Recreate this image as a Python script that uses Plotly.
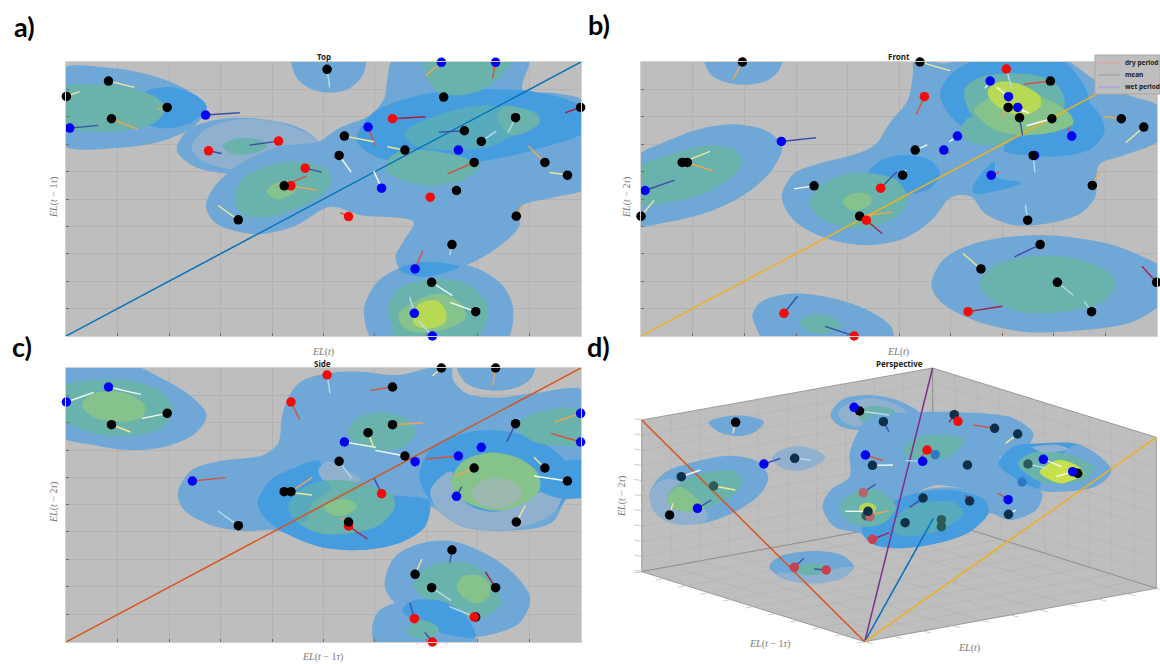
import plotly.graph_objects as go
import numpy as np

W, H = 1160, 664
POINT = {"k": "#000000", "b": "#0000F5", "r": "#F50A0A", "n": "#10304A", "t": "#2B5A58",
         "m": "#2E78C4", "f": "#C8404F", "g": "#B9616A"}
ARROW = {"W": "#F4FAF4", "Y": "#F3E79A", "O": "#EDA650", "R": "#D9503A", "D": "#3A4FA8",
         "L": "#B5DCEC", "M": "#A81F45"}
LEVEL = {"blue": "#6FA8D6", "bright": "#459DE0", "pale": "#8FB0CE", "green": "#6AB2AC", "teal": "#58ABBC",
         "light": "#85C28C", "yellow": "#B7D955", "lemon": "#C8DF4E", "sand": "#9CB9AE", "gray": "#BEBEBE"}

# ---------- panel a (Top): values ----------
a_xrange = [176, 1545]
a_yrange = [1007, 186]
a_xticks = [314, 450, 587, 724, 860, 997, 1134, 1271, 1408]
a_yticks = [268, 350, 432, 514, 597, 680, 760, 843, 925]
a_points = [(289,243),(177,289),(445,322),(297,356),(870,208),(1180,291),(1371,353),(1544,322),(1235,392),(1280,424),
            (916,408),(1077,450),(902,466),(1261,487),(1449,487),(1509,525),(1214,571),(634,659),(1373,648),
            (1202,733),(1148,846),(1265,934),(1174,187),(1318,187),(186,384),(547,345),(979,381),(1219,450),
            (1015,564),(1104,806),(1102,939),(1150,1007),(555,452),(741,423),(1044,356),(812,504),(774,557),
            (1144,591),(927,649),(756,557)]
a_kinds = "kkkkkkkkkkkkkkkkkkkkkk" + "bbbbbbbbbb" + "rrrrrrr" + "k"
a_arrows = [(289,243,358,262),(177,289,212,275),(445,322,420,327),(297,356,366,387),(870,208,877,262),
            (1371,353,1351,398),(1544,322,1503,338),(1235,392,1167,396),(1280,424,1320,393),(916,408,995,425),
            (1077,450,1030,440),(902,466,934,516),(1261,487,1190,521),(1449,487,1405,438),(1509,525,1462,517),
            (634,659,580,616),(1373,648,1390,615),(1202,733,1196,765),(1148,846,1203,886),(1265,934,1197,906),
            (1174,187,1133,226),(1318,187,1310,235),(186,384,262,376),(547,345,638,338),(979,381,997,436),
            (1015,564,994,513),(1104,806,1124,752),(1102,939,1090,890),(1150,1007,1113,962),(555,452,590,460),
            (741,423,664,435),(1044,356,1132,350),(812,504,856,516),(774,557,843,570),(756,557,815,527),(927,649,905,637)]
a_arrow_kinds = "YYOOLLMDLYYWROYYOLWWORDDRWRLLDDMDORR"
a_region_levels = ["blue","bright","green","blue","blue","pale","blue","bright","green","teal","green","green","green",
                   "light","green","blue","bright","green","light","yellow"]
a_regions = [
 [(160,210),(290,203),(400,225),(490,265),(550,320),(520,375),(440,420),(320,443),(160,430)],
 [(343,322),(375,280),(450,261),(520,285),(550,320),(520,360),(450,385),(375,365)],
 [(160,265),(260,253),(350,265),(420,295),(440,325),(415,365),(340,390),(270,395),(160,370)],
 [(778,170),(790,235),(830,268),(875,278),(925,268),(965,225),(970,170)],
 [(470,450),(500,390),(580,358),(680,355),(790,380),(845,425),(800,480),(700,515),(600,520),(510,495)],
 [(510,440),(550,385),(640,358),(750,370),(845,425),(790,470),(700,510),(600,505),(535,480)],
 [(1050,170),(1030,240),(1022,295),(985,345),(900,385),(845,425),(740,440),(640,490),(570,560),(548,620),(575,670),
  (680,702),(780,680),(880,620),(960,645),(1100,665),(1075,720),(1052,770),(1070,815),(1130,830),(1230,800),(1320,745),
  (1380,680),(1385,620),(1480,590),(1560,560),(1560,310),(1480,280),(1390,268),(1405,170)],
 [(948,420),(990,340),(1100,290),(1250,268),(1400,272),(1500,295),(1560,330),(1560,390),(1450,440),(1300,480),(1130,495),(1000,470)],
 [(1133,170),(1135,235),(1170,280),(1230,285),(1290,265),(1330,230),(1365,170)],
 [(1075,400),(1130,360),(1250,320),(1340,318),(1430,340),(1435,370),(1370,405),(1300,440),(1180,450),(1100,435)],
 [(1325,345),(1345,318),(1420,340),(1435,365),(1400,395),(1360,405),(1330,375)],
 [(1025,490),(1060,455),(1130,450),(1240,475),(1275,500),(1240,535),(1150,557),(1080,545),(1035,520)],
 [(625,590),(650,530),(720,495),(800,485),(870,510),(880,550),(850,590),(790,625),(700,652),(640,640)],
 [(710,575),(730,550),(785,550),(785,575),(735,597)],
 [(593,437),(630,415),(690,420),(710,440),(670,460),(620,462)],
 [(968,930),(1000,850),(1060,805),(1165,783),(1270,805),(1340,860),(1365,930),(1340,1030),(1000,1030)],
 [(1060,805),(1130,785),(1220,800),(1130,830),(1070,815)],
 [(1033,920),(1060,865),(1150,838),(1240,850),(1295,910),(1290,975),(1250,1030),(1060,1030),(1040,970)],
 [(1060,940),(1110,900),(1170,880),(1220,905),(1240,950),(1190,985),(1100,995),(1065,970)],
 [(1110,915),(1160,900),(1185,930),(1185,965),(1140,985),(1100,970)],
]
a_diagonal_x = [176, 1545]
a_diagonal_y = [1007, 186]

# ---------- panel b (Front) ----------
b_xrange = [154, 1558]
b_yrange = [1007, 186]
b_xticks = [295, 435, 576, 716, 857, 997, 1137, 1277, 1417]
b_yticks = [268, 350, 432, 514, 597, 680, 760, 843, 925]
b_points = [(1225,466),(430,186),(913,186),(1268,243),(1153,322),(1184,353),(1272,356),(1461,356),(1522,381),(900,450),
            (266,487),(280,487),(866,525),(1221,466),(625,557),(1382,556),(154,648),(1206,660),(1240,733),
            (1079,806),(1287,846),(1557,846),(1380,934),(1104,243),(1154,290),(1179,322),(1015,408),(1326,408),
            (536,424),(978,450),(1107,525),(165,571),(1148,207),(925,290),(806,564),(543,939),(1044,934),
            (734,1007),(749,648),(767,660)]
b_kinds = "b" + "kkkkkkkkkkkkkkkkkkkkkk" + "bbbbbbbbb" + "rrrrrr" + "kr"
b_arrows = [(430,186,404,238),(913,186,995,212),(1268,243,1195,253),(1153,322,1135,350),(1153,322,1207,337),(1184,353,1192,405),
            (1272,356,1203,377),(1461,356,1415,350),(1522,381,1473,428),(900,450,933,434),(266,487,342,454),
            (280,487,350,512),(866,525,875,510),(1221,466,1226,517),(625,557,570,566),(1382,556,1400,515),
            (154,648,190,600),(749,648,838,636),(1206,660,1200,615),(1240,733,1170,770),(1079,806,1030,760),
            (1287,846,1330,885),(1557,846,1517,798),(1380,934,1360,903),(1104,243,1090,265),(1154,290,1122,262),
            (1179,322,1210,340),(1015,408,993,425),(1326,408,1315,382),(536,424,630,413),(978,450,995,460),
            (1107,525,1128,516),(165,571,245,540),(1148,207,1163,265),(925,290,903,342),(806,564,850,515),
            (767,660,810,700),(543,939,580,888),(1044,934,1137,918),(734,1007,655,978)]
b_arrow_kinds = "OYROWDWOYWYOWLWOYOLDYLMLWWWWRDRRDLRDMDMD"
b_region_levels = ["blue","blue","green","blue","bright","bright","bright","bright","green","green","light","yellow",
                   "green","light","blue","green","blue","green"]
b_regions = [
 [(327,170),(345,225),(390,248),(440,254),(500,240),(530,210),(538,170)],
 [(140,475),(220,425),(320,385),(420,373),(500,395),(538,440),(510,510),(440,580),(350,630),(230,665),(140,672)],
 [(140,510),(230,465),(330,437),(410,450),(427,490),(390,540),(300,590),(200,612),(140,610)],
 [(900,170),(975,190),(1060,170),(1290,170),(1390,240),(1480,285),(1570,325),(1570,415),(1470,465),(1400,495),(1390,590),
  (1350,640),(1260,670),(1170,675),(1090,640),(1052,590),(1000,590),(945,660),(870,715),(770,735),(660,715),(570,660),
  (537,590),(570,520),(640,490),(730,465),(790,435),(830,370),(880,300),(893,230)],
 [(968,280),(1000,220),(1080,175),(1290,175),(1350,240),(1373,300),(1340,370),(1260,420),(1160,430),(1060,400),(990,340)],
 [(1140,450),(1310,270),(1400,340),(1415,395),(1380,445),(1300,468),(1200,465)],
 [(772,522),(800,485),(870,465),(940,480),(968,522),(940,565),(870,582),(800,560)],
 [(1057,560),(1115,485),(1120,530),(1190,548),(1060,580)],
 [(1034,270),(1070,235),(1170,220),(1270,240),(1305,290),(1300,350),(1240,395),(1170,410),(1090,385),(1045,330)],
 [(1022,395),(1050,350),(1100,390),(1170,410),(1150,430),(1080,435),(1040,420)],
 [(1060,330),(1100,295),(1190,270),(1320,340),(1330,370),(1280,395),(1200,405),(1120,390)],
 [(1098,270),(1130,245),(1190,255),(1240,290),(1240,320),(1200,345),(1150,335),(1105,300)],
 [(613,610),(640,560),(700,525),(780,520),(850,540),(878,590),(860,640),(780,680),(700,680),(640,650)],
 [(702,605),(725,582),(775,583),(780,610),(745,630),(725,630)],
 [(944,855),(975,780),(1060,730),(1180,707),(1300,708),(1440,735),(1540,780),(1570,800),(1570,905),(1490,965),(1350,990),(1200,995),(1060,960),(970,905)],
 [(1074,850),(1110,800),(1200,770),(1310,770),(1410,805),(1447,850),(1410,905),(1300,935),(1190,935),(1100,895)],
 [(457,945),(480,905),(570,880),(680,895),(780,935),(835,980),(838,1030),(497,1030),(465,975)],
 [(583,965),(615,943),(670,950),(700,975),(660,997),(620,997)],
]
b_diagonal_x = [154, 1558]
b_diagonal_y = [1007, 186]

# ---------- panel c (Side) ----------
c_xrange = [176, 1545]
c_yrange = [936, 114]
c_xticks = [314, 450, 587, 724, 860, 997, 1134, 1271, 1408]
c_yticks = [196, 278, 360, 442, 523, 605, 688, 770, 852]
c_points = [(1174,114),(1318,114),(1044,171),(445,250),(297,284),(1044,284),(1371,281),(979,308),(1077,378),(902,394),
            (1261,414),(1449,414),(1509,453),(756,485),(774,485),(634,587),(1373,576),(1202,660),(1104,733),
            (1148,773),(1318,773),(1265,861),(289,171),(177,216),(916,336),(1280,352),(1544,250),(1544,336),
            (1219,378),(1104,395),(512,453),(1214,499),(870,135),(774,216),(1015,491),(927,588),(1102,866),
            (1261,861),(1150,936),(927,576)]
c_kinds = "kkkkkkkkkkkkkkkkkkkkkk" + "bbbbbbbbbb" + "rrrrrrr" + "k"
c_arrows = [(1174,114,1150,138),(1318,114,1310,165),(1044,171,985,181),(445,250,378,265),(297,284,347,306),
            (1044,284,1125,279),(1371,281,1348,335),(979,308,995,355),(1077,378,998,361),(902,394,935,445),
            (1261,414,1213,438),(1449,414,1420,382),(1509,453,1420,438),(756,485,830,495),(774,485,830,443),
            (927,576,905,563),(634,587,580,543),(1373,576,1397,527),(1202,660,1196,698),(1104,733,1122,688),
            (1148,773,1200,812),(1318,773,1291,726),(1265,861,1195,830),(289,171,375,193),(177,216,250,187),
            (916,336,1000,352),(1544,250,1475,276),(1544,336,1465,310),(1219,378,1133,387),(512,453,600,443),
            (1214,499,1228,470),(1015,491,995,445),(870,135,878,190),(774,216,797,268),(927,588,977,627),
            (1102,866,1090,818),(1150,936,1130,907)]
c_arrow_kinds = "YORWYODYWLOYWYOOLYDYLMLWWWORRRDDLRMDD"
c_region_levels = ["blue","green","light","blue","blue","bright","pale","bright","pale","bright","green","light","sand",
                   "green","green","teal","light","blue","green","light","blue","bright","green"]
c_regions = [
 [(160,100),(340,100),(430,145),(510,200),(550,255),(520,310),(440,350),(340,360),(250,345),(160,315)],
 [(160,175),(230,152),(330,150),(420,180),(460,235),(440,285),(370,315),(270,315),(200,290),(160,265)],
 [(218,225),(250,190),(330,188),(385,225),(380,260),(320,275),(250,262)],
 [(1215,100),(1240,160),(1310,182),(1380,170),(1415,140),(1422,100)],
 [(800,155),(870,130),(960,125),(1060,135),(1170,105),(1200,105),(1205,150),(1240,190),(1320,203),(1420,190),(1560,185),
  (1560,500),(1510,505),(1465,580),(1320,600),(1200,565),(1140,530),(1130,590),(1060,640),(960,660),(850,650),(760,610),
  (730,600),(650,603),(560,585),(490,540),(473,490),(510,420),(590,392),(700,375),(740,340),(750,260),(770,195)],
 [(685,520),(720,450),(790,410),(848,392),(880,470),(1140,510),(1145,530),(1130,590),(1060,640),(960,660),(850,650),(760,610),(710,570)],
 [(847,420),(870,395),(950,440),(960,450),(880,470),(855,445)],
 [(1115,440),(1150,350),(1240,308),(1330,302),(1430,330),(1500,390),(1515,450),(1490,530),(1410,585),(1320,602),(1220,585),(1150,520)],
 [(1145,480),(1200,425),(1240,520),(1320,545),(1430,490),(1497,470),(1480,540),(1410,585),(1320,602),(1220,585),(1160,535)],
 [(1392,440),(1420,400),(1500,392),(1560,395),(1560,495),(1490,505),(1430,480)],
 [(1372,290),(1400,260),(1470,238),(1560,240),(1560,340),(1470,345),(1420,335)],
 [(1200,450),(1230,395),(1300,368),(1380,385),(1430,430),(1435,480),(1395,520),(1320,542),(1245,520),(1210,490)],
 [(1252,490),(1280,455),(1320,445),(1370,460),(1390,490),(1365,520),(1320,535),(1275,522)],
 [(925,310),(950,265),(1010,248),(1080,265),(1105,310),(1080,345),(1020,362),(955,345)],
 [(767,530),(800,480),(880,450),(960,460),(1040,490),(1050,530),(1010,585),(930,610),(850,610),(790,575)],
 [(767,530),(800,480),(870,452),(880,475),(830,520),(815,575),(790,575)],
 [(862,530),(895,510),(930,510),(950,530),(920,555),(885,555)],
 [(1023,755),(1050,680),(1120,640),(1200,633),(1290,670),(1370,735),(1410,805),(1385,875),(1320,910),(1240,922),(1150,900),(1070,840),(1030,790)],
 [(1100,765),(1130,715),(1190,695),(1260,705),(1320,775),(1332,820),(1300,855),(1240,862),(1160,830),(1115,790)],
 [(1215,770),(1230,740),(1270,735),(1300,760),(1300,800),(1270,820),(1230,800)],
 [(990,890),(1010,840),(1090,810),(1180,815),(1240,860),(1265,920),(1265,960),(1005,960)],
 [(1070,840),(1100,812),(1180,815),(1240,860),(1265,920),(1150,900)],
 [(1083,900),(1110,870),(1150,880),(1168,900),(1140,925),(1100,922)],
]
c_diagonal_x = [176, 1545]
c_diagonal_y = [936, 114]

# ---------- panel d (Perspective) ----------
d_xrange = [14, 1568]
d_yrange = [1002, 30]
d_floor = [(155,725),(950,565),(1558,775),(763,935)]
d_left_wall = [(155,270),(948,114),(950,565),(155,725)]
d_right_wall = [(948,114),(1558,322),(1558,775),(950,565)]
d_points = [(411,277),(231,555),(749,243),(1344,430),(814,275),(1007,254),(1117,295),(1180,312),(572,385),(784,406),(1043,405),
            (263,440),(922,504),(1049,513),(1155,553),(873,578),(351,468),(1208,402),(972,569),(972,590),(767,557),(955,374),(1192,456),
            (734,232),(765,375),(488,402),(921,394),(1250,388),(1330,425),(1154,509),(307,535),(1017,274),(933,360),
            (759,488),(777,560),(784,628),(571,712),(658,720),(772,544)]
d_kinds = "kkkk" + "nnnnnnnnnnnn" + "ttttt" + "mm" + "bbbbbbbb" + "rr" + "ggfff" + "n"
d_arrows = [(411,277,403,310),(231,555,240,520),(749,243,830,255),(814,275,829,305),(1007,254,993,277),(1117,295,1058,285),
            (1180,312,1147,340),(572,385,615,390),(784,406,840,405),(263,440,315,420),(922,504,885,533),(1049,513,1038,496),
            (1155,553,1175,540),(873,578,865,566),(772,544,710,544),(351,468,410,480),(1208,402,1260,415),(767,557,825,543),
            (765,375,813,392),(488,402,533,385),(921,394,875,392),(933,360,912,388),(1250,388,1300,410),(1330,425,1285,440),
            (1154,509,1127,490),(307,535,345,510),(759,488,793,462),(784,628,830,608),(571,712,597,685),(658,720,625,717),(734,232,745,260)]
d_arrow_kinds = "YYLDMRYLWWDMWWWYLORDLRWWRDDMDDO"
d_region_levels = ["blue","pale","blue","pale","blue","pale","green","green","light",
                   "blue","bright","gray","teal","green","green","yellow",
                   "bright","blue","green","lemon","pale","blue","pale","green"]
d_regions = [
 [(337,277),(380,260),(440,258),(488,275),(465,305),(415,318),(365,305)],
 [(510,385),(540,358),(600,350),(655,380),(625,410),(575,422),(530,410)],
 [(177,490),(215,430),(300,395),(400,377),(470,395),(500,440),(480,490),(410,545),(320,580),(240,580),(190,545)],
 [(177,490),(210,450),(260,455),(335,560),(320,578),(240,580),(190,545)],
 [(670,255),(700,210),(770,195),(850,210),(912,250),(820,280),(745,300),(690,285)],
 [(690,250),(720,220),(780,205),(840,220),(880,250),(800,270),(745,290),(705,275)],
 [(745,245),(790,228),(840,240),(850,262),(800,290),(760,280)],
 [(225,500),(260,460),(340,425),(410,425),(427,460),(400,500),(340,530),(290,545),(240,535)],
 [(225,505),(255,470),(300,500),(325,535),(290,545),(240,535)],
 [(745,305),(780,260),(850,250),(950,245),(1080,250),(1170,265),(1222,310),(1210,345),(1130,385),(1190,440),(1247,490),
  (1230,540),(1160,570),(1100,550),(1050,605),(960,640),(850,655),(780,640),(755,612),(680,590),(648,530),(670,480),(722,440),(722,370)],
 [(755,600),(800,540),(900,490),(1000,480),(1090,510),(1100,550),(1050,605),(960,640),(850,655),(780,640)],
 [(915,482),(960,465),(1040,478),(1000,472),(950,475)],
 [(840,590),(870,540),(940,515),(1010,520),(1032,550),(980,595),(900,618),(850,612)],
 [(868,360),(900,325),(970,315),(1035,330),(1000,375),(940,390),(890,385)],
 [(695,530),(730,490),(790,478),(848,530),(820,575),(770,590),(720,575)],
 [(748,530),(770,518),(795,530),(785,550),(755,550)],
 [(1127,400),(1170,350),(1250,340),(1350,345),(1435,420),(1400,465),(1320,483),(1240,478),(1180,450)],
 [(1340,345),(1435,420),(1400,465),(1320,483),(1240,478)],
 [(1180,400),(1220,368),(1310,372),(1385,410),(1370,445),(1300,462),(1230,450)],
 [(1240,425),(1290,390),(1340,405),(1360,430),(1300,460),(1260,445)],
 [(1220,352),(1290,345),(1320,358),(1250,367)],
 [(503,710),(530,680),(620,663),(700,675),(733,710),(700,745),(620,760),(540,745)],
 [(525,730),(600,730),(730,712),(700,745),(620,760),(545,745)],
 [(580,712),(620,700),(670,712),(640,732),(590,732)],
]
d_line_orange = [(155,270),(763,935)]
d_line_purple = [(948,114),(763,935)]
d_line_blue = [(950,565),(763,935)]
d_line_yellow = [(1558,322),(763,935)]

legend_labels = ["dry period", "mean", "wet period"]
legend_colors = ["#E89A9A", "#9A9A9A", "#9A9AE6"]
legend_rows = [63, 75, 87]


def dom_x(a, b):
    return [a / W, b / W]


def dom_y(top, bottom):
    return [1 - bottom / H, 1 - top / H]


fig = go.Figure()


def regions(ax, ay, outlines, levels):
    for outline, level in zip(outlines, levels):
        pts = list(outline) + [outline[0]]
        fig.add_trace(go.Scatter(x=[p[0] for p in pts], y=[p[1] for p in pts], xaxis=ax, yaxis=ay, mode="lines",
                                 line=dict(width=0, shape="spline", smoothing=0.9), fill="toself",
                                 fillcolor=LEVEL[level], hoverinfo="skip", showlegend=False))


def arrows(ax, ay, segs, kinds):
    for k in sorted(set(kinds)):
        xs, ys = [], []
        for s, kind in zip(segs, kinds):
            if kind == k:
                xs += [s[0], s[2], None]
                ys += [s[1], s[3], None]
        fig.add_trace(go.Scatter(x=xs, y=ys, xaxis=ax, yaxis=ay, mode="lines", cliponaxis=False,
                                 line=dict(color=ARROW[k], width=1.4), hoverinfo="skip", showlegend=False))


def points(ax, ay, pts, kinds):
    fig.add_trace(go.Scatter(x=[p[0] for p in pts], y=[p[1] for p in pts], xaxis=ax, yaxis=ay, mode="markers",
                             cliponaxis=False, marker=dict(size=9.5, color=[POINT[k] for k in kinds]),
                             hoverinfo="skip", showlegend=False))


def line(ax, ay, xs, ys, color):
    fig.add_trace(go.Scatter(x=xs, y=ys, xaxis=ax, yaxis=ay, mode="lines", line=dict(color=color, width=1.5),
                             hoverinfo="skip", showlegend=False))


# panel d walls, floor, grid and tick marks
for wall in (d_left_wall, d_right_wall, d_floor):
    pts = wall + [wall[0]]
    fig.add_trace(go.Scatter(x=[p[0] for p in pts], y=[p[1] for p in pts], xaxis="x4", yaxis="y4", mode="lines",
                             line=dict(color="#8A8A8A", width=0.8), fill="toself", fillcolor="#BEBEBE",
                             hoverinfo="skip", showlegend=False))
    p = np.array(wall, dtype=float)
    gx, gy = [], []
    for t in np.arange(1, 10) / 10:
        for u, v in ((p[0] + (p[1] - p[0]) * t, p[3] + (p[2] - p[3]) * t),
                     (p[0] + (p[3] - p[0]) * t, p[1] + (p[2] - p[1]) * t)):
            gx += [u[0], v[0], None]
            gy += [u[1], v[1], None]
    fig.add_trace(go.Scatter(x=gx, y=gy, xaxis="x4", yaxis="y4", mode="lines", line=dict(color="#B0B0B0", width=0.5),
                             hoverinfo="skip", showlegend=False))

tx, ty = [], []
fl = np.array(d_floor, dtype=float)
lw = np.array(d_left_wall, dtype=float)
for t in np.arange(0, 11) / 10:
    for base, off in ((lw[0] + (lw[3] - lw[0]) * t, (-20, -4)), (fl[0] + (fl[3] - fl[0]) * t, (-22, 4)),
                      (fl[3] + (fl[2] - fl[3]) * t, (22, 6))):
        tx += [base[0], base[0] + off[0], None]
        ty += [base[1], base[1] + off[1], None]
fig.add_trace(go.Scatter(x=tx, y=ty, xaxis="x4", yaxis="y4", mode="lines", line=dict(color="#B5B5B5", width=0.7),
                         hoverinfo="skip", showlegend=False))

regions("x4", "y4", d_regions, d_region_levels)
line("x4", "y4", [d_line_blue[0][0], d_line_blue[1][0]], [d_line_blue[0][1], d_line_blue[1][1]], "#0072BD")
line("x4", "y4", [d_line_orange[0][0], d_line_orange[1][0]], [d_line_orange[0][1], d_line_orange[1][1]], "#D95319")
line("x4", "y4", [d_line_purple[0][0], d_line_purple[1][0]], [d_line_purple[0][1], d_line_purple[1][1]], "#7E2F8E")
line("x4", "y4", [d_line_yellow[0][0], d_line_yellow[1][0]], [d_line_yellow[0][1], d_line_yellow[1][1]], "#EDB120")
arrows("x4", "y4", d_arrows, d_arrow_kinds)
points("x4", "y4", d_points, d_kinds)

regions("x", "y", a_regions, a_region_levels)
line("x", "y", a_diagonal_x, a_diagonal_y, "#0072BD")
arrows("x", "y", a_arrows, a_arrow_kinds)
points("x", "y", a_points, a_kinds)

regions("x2", "y2", b_regions, b_region_levels)
line("x2", "y2", b_diagonal_x, b_diagonal_y, "#EDB120")
arrows("x2", "y2", b_arrows, b_arrow_kinds)
points("x2", "y2", b_points, b_kinds)

regions("x3", "y3", c_regions, c_region_levels)
line("x3", "y3", c_diagonal_x, c_diagonal_y, "#D95319")
arrows("x3", "y3", c_arrows, c_arrow_kinds)
points("x3", "y3", c_points, c_kinds)


def axis(rng, ticks, dom, anchor):
    return dict(range=rng, domain=dom, anchor=anchor, tickmode="array", tickvals=ticks, showticklabels=False,
                ticks="inside", ticklen=3, tickcolor="#6E6E6E", tickwidth=0.8, showgrid=True, gridcolor="#B2B2B2",
                gridwidth=0.7, zeroline=False, showline=True, linecolor="#D2D2D2", linewidth=1, mirror=True)


def hidden(rng, dom, anchor):
    return dict(range=rng, domain=dom, anchor=anchor, visible=False, fixedrange=True)


notes = []


def note(px, py, text, size, font="Liberation Serif", color="#777777", angle=0, bold=False, xanchor="center"):
    notes.append(dict(x=px / W, y=1 - py / H, xref="paper", yref="paper", text=f"<b>{text}</b>" if bold else text,
                      showarrow=False, textangle=angle, xanchor=xanchor, yanchor="middle",
                      font=dict(family=font, size=size, color=color)))


for px, py, s in ((24, 26, "a)"), (599, 24, "b)"), (22, 347, "c)"), (599, 347, "d)")):
    note(px, py, s, 27, "Lato", "#000000", bold=True)
for px, py, s in ((324, 57, "Top"), (899, 57, "Front"), (323, 363, "Side"), (899, 363, "Perspective")):
    note(px, py, s, 8, "Noto Sans", "#222222", bold=True)
EL_T = "<i>EL</i>(<i>t</i>)"
EL_1 = "<i>EL</i>(<i>t</i> − 1<i>τ</i>)"
EL_2 = "<i>EL</i>(<i>t</i> − 2<i>τ</i>)"
note(323, 352, EL_T, 10)
note(898, 352, EL_T, 10)
note(323, 657, EL_1, 10)
note(969, 648, EL_T, 10)
note(769, 644, EL_1, 10)
note(54, 198, EL_1, 10, angle=-90)
note(627, 198, EL_2, 10, angle=-90)
note(54, 503, EL_2, 10, angle=-90)
note(622, 497, EL_2, 10, angle=-90)

shapes = [dict(type="rect", xref="x4 domain", yref="y4 domain", x0=0, x1=1, y0=0, y1=1, layer="below",
               fillcolor="white", line=dict(width=0)),
          dict(type="rect", xref="paper", yref="paper", x0=1095 / W, x1=1160 / W, y0=1 - 94 / H, y1=1 - 55 / H,
               fillcolor="#BEBEBE", line=dict(color="#A8A8A8", width=1), layer="above")]
for label, color, row in zip(legend_labels, legend_colors, legend_rows):
    shapes.append(dict(type="line", xref="paper", yref="paper", x0=1098 / W, x1=1120 / W, y0=1 - row / H, y1=1 - row / H,
                       line=dict(color=color, width=1), layer="above"))
    note(1123, row, label, 6.5, "Noto Sans", "#222222", bold=True, xanchor="left")

fig.update_layout(
    width=W, height=H, margin=dict(l=0, r=0, t=0, b=0), paper_bgcolor="white", plot_bgcolor="#BEBEBE",
    showlegend=False,
    xaxis=axis(a_xrange, a_xticks, dom_x(66, 581), "y"),
    yaxis=axis(a_yrange, a_yticks, dom_y(62, 336), "x"),
    xaxis2=axis(b_xrange, b_xticks, dom_x(641, 1157), "y2"),
    yaxis2=axis(b_yrange, b_yticks, dom_y(62, 336), "x2"),
    xaxis3=axis(c_xrange, c_xticks, dom_x(66, 581), "y3"),
    yaxis3=axis(c_yrange, c_yticks, dom_y(368, 642), "x3"),
    xaxis4=hidden(d_xrange, dom_x(590, 1160), "y4"),
    yaxis4=hidden(d_yrange, dom_y(340, 664), "x4"),
    annotations=notes,
    shapes=shapes,
)
fig.write_html("out.html", config={"displayModeBar": False},
               post_script="document.body.style.margin='0';document.body.style.overflow='hidden';")
